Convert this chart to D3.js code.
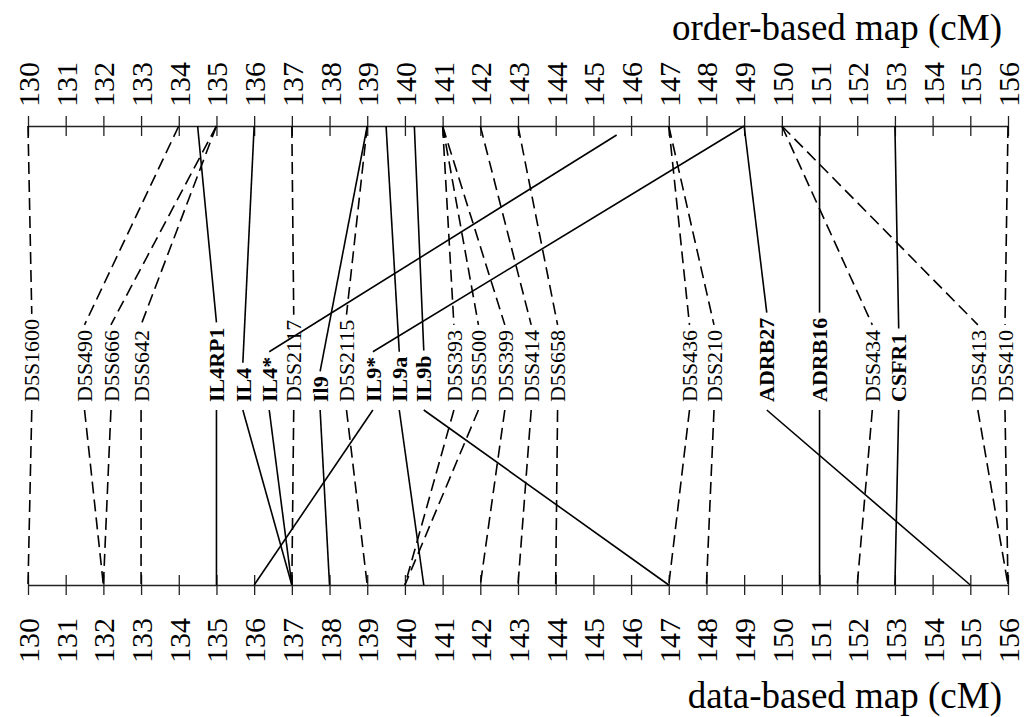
<!DOCTYPE html>
<html>
<head>
<meta charset="utf-8">
<script src="https://cdn.jsdelivr.net/npm/d3@7"></script>
<style>
body { margin: 0; background: #fff; }
text { font-family: "Liberation Serif", "Times New Roman", serif; }
</style>
</head>
<body>
<svg id="chart" width="1026" height="717"></svg>
<script>
// Marker data: order-based position (top), data-based position (bottom), label slot
var markers   = ["D5S1600","D5S490","D5S666","D5S642","IL4RP1","IL4","IL4*","D5S2117","Il9","D5S2115","IL9*","IL9a","IL9b",
                 "D5S393","D5S500","D5S399","D5S414","D5S658","D5S436","D5S210","ADRB27","ADRB16","D5S434","CSFR1","D5S413","D5S410"]
var orderPos  = [130, 134, 135, 135, 134.5, 136, 146, 137, 139, 139, 149, 139.5, 140.25,
                 141, 141, 141, 142, 143, 147, 147, 149, 151, 150, 153, 150, 156]
var dataPos   = [130, 132, 132, 133, 135, 137, 137, 137, 138, 139, 136, 140.5, 147,
                 140, 140, 142, 143, 144, 147, 148, 155, 151, 152, 153, 156, 156]
var labelPos  = [130.1, 131.5, 132.2, 133.0, 135.0, 135.7, 136.4, 137.05, 137.75, 138.45, 139.15, 139.85, 140.5,
                 141.3, 141.95, 142.65, 143.35, 144.05, 147.55, 148.2, 149.6, 151.0, 152.4, 153.1, 155.2, 155.92]
var isGene    = [0,0,0,0,1,1,1,0,1,0,1,1,1, 0,0,0,0,0,0,0,1,1,0,1,0,0]
var shortTop  = ["IL4*"]   // line drawn toward the axis but stopping short of it
var tickValues = d3.range(130, 157)
var topTitle = "order-based map (cM)"
var bottomTitle = "data-based map (cM)"

var svg = d3.select("#chart")
var yTop = 126, yBottom = 585
var labelBase = 402, labelGap = 5

var x = d3.scaleLinear().domain([130, 156]).range([28, 1008])

// Axes
function drawAxis(y, axisFn, labelY, anchor) {
  var g = svg.append("g")
    .attr("transform", "translate(0," + y + ")")
    .call(axisFn(x).tickValues(tickValues).tickSize(10).tickSizeOuter(0).tickFormat(d3.format("d")))
  g.select(".domain").attr("stroke", "#222").attr("stroke-width", 1.3)
  g.selectAll(".tick line").attr("y1", -10).attr("y2", 10).attr("stroke", "#222").attr("stroke-width", 1.3)
  g.selectAll(".tick text")
    .attr("y", null).attr("x", null)
    .attr("dy", "0.35em")
    .attr("text-anchor", anchor)
    .attr("transform", "translate(0," + (labelY - y) + ") rotate(-90)")
    .style("font-family", '"Liberation Serif", serif')
    .style("font-size", "30px")
    .attr("fill", "#000")
  g.attr("font-family", null).attr("font-size", null)
}
drawAxis(yTop, d3.axisTop, 107, "start")
drawAxis(yBottom, d3.axisBottom, 618, "end")

// Titles
svg.append("text").attr("x", 1002).attr("y", 40).attr("text-anchor", "end")
  .style("font-size", "37px").text(topTitle)
svg.append("text").attr("x", 1002).attr("y", 708).attr("text-anchor", "end")
  .style("font-size", "37px").text(bottomTitle)

// Marker labels and connecting lines
var data = markers.map(function(m, i) {
  return { name: m, top: orderPos[i], bottom: dataPos[i], lab: labelPos[i], gene: isGene[i] == 1 }
})

var labels = svg.append("g").selectAll("text")
  .data(data).enter().append("text")
  .attr("text-anchor", "start")
  .attr("dy", "0.35em")
  .attr("transform", function(d) { return "translate(" + x(d.lab) + "," + labelBase + ") rotate(-90)" })
  .style("font-size", "22px")
  .style("font-weight", function(d) { return d.gene ? "bold" : "normal" })
  .text(function(d) { return d.name })

labels.each(function(d) { d.len = this.getComputedTextLength() })

var lines = svg.append("g").attr("fill", "none").attr("stroke", "#000").attr("stroke-width", 1.6)

data.forEach(function(d) {
  var lx = x(d.lab)
  var dash = d.gene ? null : "12,6"
  // upper segment: order-based position to top of label
  var ty = yTop
  var tx = x(d.top)
  var ly = labelBase - d.len - labelGap
  if (shortTop.indexOf(d.name) >= 0) {
    var f = 9 / (ly - yTop)
    tx = tx + (lx - tx) * f
    ty = yTop + 9
  }
  lines.append("line")
    .attr("x1", tx).attr("y1", ty)
    .attr("x2", lx).attr("y2", ly)
    .attr("stroke-dasharray", dash)
  // lower segment: bottom of label to data-based position
  lines.append("line")
    .attr("x1", lx).attr("y1", labelBase + 8)
    .attr("x2", x(d.bottom)).attr("y2", yBottom)
    .attr("stroke-dasharray", dash)
})
</script>
</body>
</html>
